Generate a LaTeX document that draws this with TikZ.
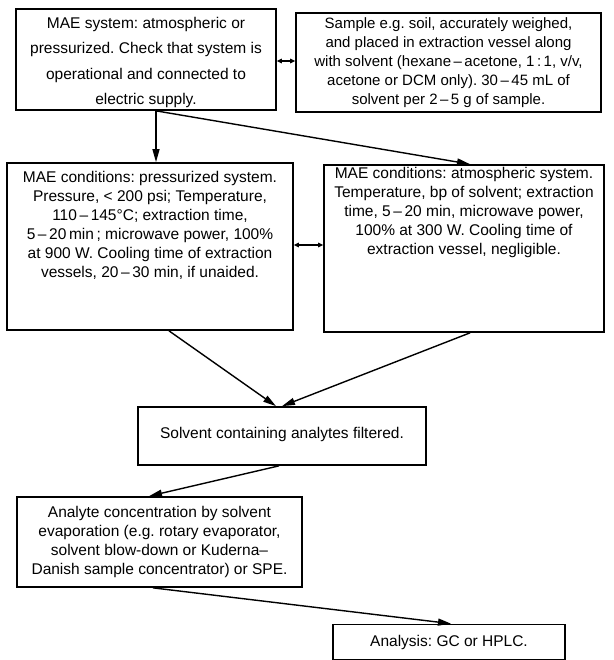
\documentclass[tikz,border=0pt]{standalone}
\usepackage{fontspec}
\setmainfont{Liberation Sans}
\usetikzlibrary{arrows.meta}
\begin{document}
\begin{tikzpicture}[x=1pt,y=-1pt,
  box/.style={draw, line width=1.7pt, inner sep=0pt},
  txt/.style={align=center, inner sep=0pt, font=\fontsize{15.5}{19}\selectfont\frenchspacing},
  arr/.style={line width=1.4pt, -{Triangle[length=13pt,width=7pt]}},
  dbl/.style={line width=1.2pt, {Triangle[length=5pt,width=4.5pt]}-{Triangle[length=5pt,width=4.5pt]}}]
\useasboundingbox (0,0) rectangle (613,660);

% boxes
\node[box, minimum width=260pt, minimum height=101pt] (A) at (146,59.5) {};
\node[box, minimum width=305pt, minimum height=99pt] (B) at (448.5,62.5) {};
\node[box, minimum width=286pt, minimum height=167pt] (C) at (150,246.5) {};
\node[box, minimum width=280pt, minimum height=167pt] (D) at (464,248.5) {};
\node[box, minimum width=288pt, minimum height=58pt] (E) at (282,436) {};
\node[box, minimum width=285pt, minimum height=90pt] (F) at (159.5,542) {};
\node[box, minimum width=232pt, minimum height=35pt] (G) at (449,642) {};

% texts
\node[txt, font=\fontsize{15.5}{25.3}\selectfont\frenchspacing] (At) at (146,62.5) {MAE system: atmospheric or\\pressurized. Check that system is\\operational and connected to\\electric supply.};
\node[txt, font=\fontsize{15}{19}\selectfont\frenchspacing] (Bt) at (B) {Sample e.g. soil, accurately weighed,\\and placed in extraction vessel along\\with solvent (hexane\,–\,acetone, 1\,:\,1, v/v,\\acetone or DCM only). 30\,–\,45 mL of\\solvent per 2\,–\,5 g of sample.};
\node[txt] (Ct) at (150,225) {MAE conditions: pressurized system.\\Pressure, < 200 psi; Temperature,\\110\,–\,145°C; extraction time,\\5\,–\,20\,min\,; microwave power, 100\%\\at 900 W. Cooling time of extraction\\vessels, 20\,–\,30 min, if unaided.};
\node[txt] (Dt) at (464,212) {MAE conditions: atmospheric system.\\Temperature, bp of solvent; extraction\\time, 5\,–\,20 min, microwave power,\\100\% at 300 W. Cooling time of\\extraction vessel, negligible.};
\node[txt] (Et) at (282,434.5) {Solvent containing analytes filtered.};
\node[txt] (Ft) at (F) {Analyte concentration by solvent\\evaporation (e.g. rotary evaporator,\\solvent blow-down or Kuderna–\\Danish sample concentrator) or SPE.};
\node[txt] (Gt) at (G) {Analysis: GC or HPLC.};

% connectors
\draw[dbl] ([yshift=-1.5pt]A.east) coordinate (ab) -- (ab -| B.west);
\draw[arr] ([xshift=10pt]A.south) coordinate (a0) -- (a0 |- C.north);
\draw[arr] (a0) -- ([xshift=6pt]D.north);
\draw[dbl] ([yshift=1.5pt]C.east) coordinate (cd) -- (cd -| D.west);
\draw[arr] ([xshift=19pt]C.south) -- ([xshift=-6pt]E.north);
\draw[arr] ([xshift=6pt]D.south) -- (E.north);
\draw[arr] ([xshift=-3pt]E.south) -- ([xshift=-10.5pt]F.north);
\draw[arr] ([xshift=-6.5pt]F.south) -- ([xshift=2pt]G.north);
\end{tikzpicture}
\end{document}
